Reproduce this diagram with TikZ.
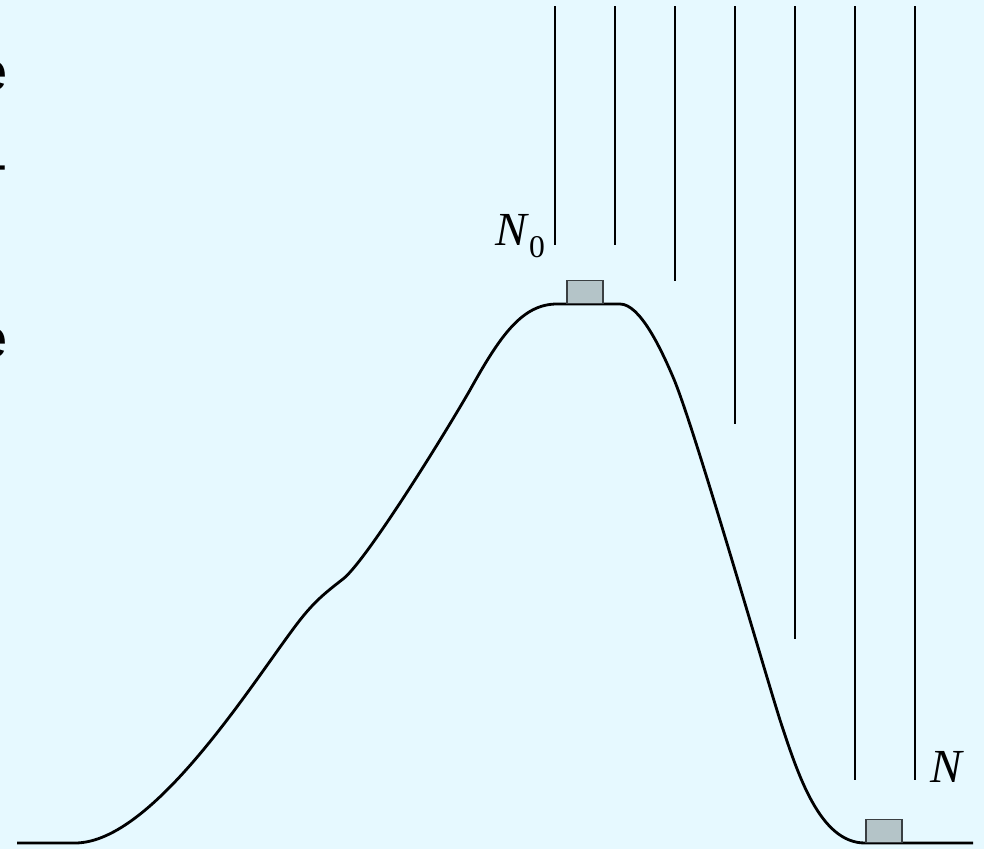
\documentclass[tikz,border=0pt]{standalone}
\usepackage{fontspec}
\setmainfont{Liberation Serif}
\newfontfamily\arialfont{Liberation Sans}
\newfontfamily\timesfont{Liberation Serif}
\usepackage{tikz}
\definecolor{bgColor}{HTML}{E6F9FF}
\definecolor{boxColor}{HTML}{B4C4C8}
\definecolor{boxEdge}{HTML}{3A3F42}
\tikzset{
    mass/.style={draw=boxEdge, fill=boxColor, line width=0.8pt, inner sep=0pt,
        minimum width=20.4pt, minimum height=13pt, anchor=south},
    lab/.style={inner sep=0pt, anchor=base west, font=\timesfont\fontsize{27}{30}\selectfont},
    cut/.style={inner sep=0pt, anchor=base east, font=\arialfont\fontsize{31}{34}\selectfont}
}
\begin{document}
\begin{tikzpicture}[x=0.02cm, y=-0.02cm]
    \fill[bgColor] (0,0) rectangle (984,849);
    \useasboundingbox (0,0) rectangle (984,849);
    \clip (0,0) rectangle (984,849);
    % text cut off at the left edge
    \node[cut] (cutA) at (8,90) {e};
    \node[cut] (cutB) at (8,182) {-};
    \node[cut] (cutC) at (8,357) {e};
    % rays
    \foreach \x/\yend in {555/245, 615/245, 675/281, 735/424, 795/639, 855/780, 915/780}
        \draw[line width=0.6pt] (\x,6) -- (\x,\yend);
    % hill: rise with a shoulder, flat top, steep fall
    \draw[line width=1.6pt, line join=round]
        (17,843) -- (75,843)
        .. controls (155,843) and (257,675) .. (300,620)
        .. controls (315,601) and (325,593) .. (343,579)
        .. controls (365,562) and (440,442) .. (470,390)
        .. controls (500,336) and (522,304) .. (557,304)
        -- (620,304)
        .. controls (640,304) and (661,349) .. (673,377)
        .. controls (693,423) and (762,663) .. (780,720)
        .. controls (798,775) and (820,843) .. (865,843)
        -- (973,843);
    % masses
    \node[mass] (topbox) at (585,304) {};
    \node[mass] (botbox) at (884,843) {};
    \node[lab] (labNzero) at (495,245) {\textit{N}\raisebox{-7pt}{\fontsize{18}{18}\selectfont 0}};
    \node[lab] (labN) at (930,782) {\textit{N}};
\end{tikzpicture}
\end{document}
